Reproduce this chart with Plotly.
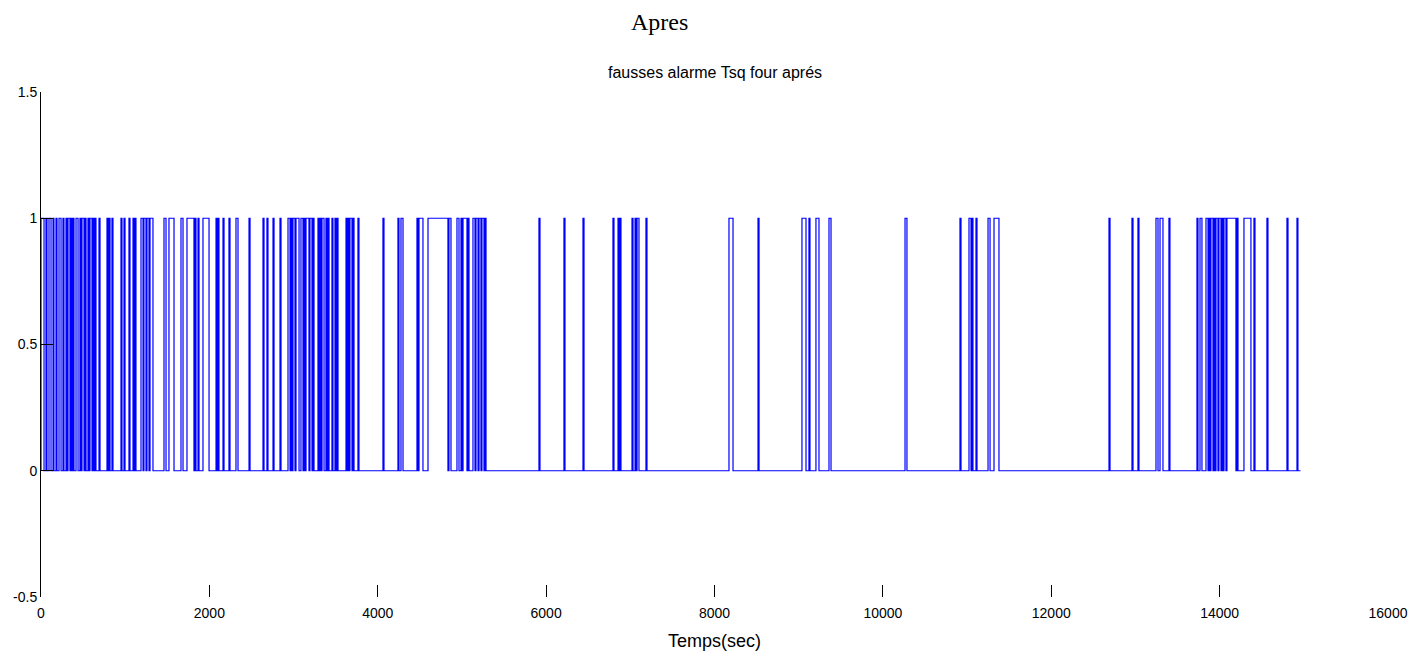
import plotly.graph_objects as go

# Alarm pulses: time (s) where the flag rises to 1 and where it falls back to 0
pulse_start = [
    0, 59, 95, 143, 178, 214, 261, 297, 321, 356, 380, 416, 463, 487, 523, 558,
    582, 618, 641, 689, 784, 808, 843, 950, 986, 1045, 1093, 1117, 1188, 1223,
    1259, 1295, 1461, 1520, 1663, 1734, 1829, 1865, 1924, 2079, 2102, 2162, 2233,
    2316, 2471, 2637, 2684, 2756, 2839, 2934, 2970, 2993, 3029, 3088, 3124, 3148,
    3195, 3231, 3290, 3314, 3338, 3385, 3409, 3456, 3492, 3516, 3623, 3647, 3670,
    3706, 3765, 4062, 4240, 4276, 4466, 4490, 4597, 4846, 4941, 4989, 5013, 5072,
    5131, 5167, 5203, 5238, 5274, 5915, 6212, 6438, 6794, 6854, 6877, 7020, 7056,
    7080, 7186, 8172, 8517, 9039, 9122, 9205, 9360, 10263, 10916, 11023, 11058,
    11106, 11249, 11320, 12686, 12959, 13030, 13244, 13292, 13398, 13731, 13767,
    13838, 13874, 13897, 13933, 13957, 13992, 14028, 14052, 14087, 14206, 14289,
    14408, 14562, 14800, 14919,
]
pulse_end = [
    36, 71, 119, 154, 190, 238, 273, 309, 344, 368, 392, 440, 475, 511, 535, 570,
    606, 630, 653, 701, 796, 820, 855, 962, 998, 1057, 1105, 1128, 1212, 1247,
    1283, 1330, 1485, 1580, 1687, 1817, 1841, 1877, 1996, 2091, 2114, 2174, 2245,
    2340, 2483, 2649, 2696, 2768, 2851, 2958, 2981, 3017, 3065, 3112, 3136, 3183,
    3219, 3243, 3302, 3326, 3362, 3397, 3421, 3468, 3504, 3528, 3635, 3658, 3694,
    3718, 3777, 4074, 4252, 4300, 4478, 4537, 4834, 4870, 4965, 5001, 5060, 5084,
    5155, 5191, 5226, 5262, 5286, 5927, 6224, 6450, 6806, 6866, 6889, 7032, 7068,
    7103, 7198, 8220, 8529, 9087, 9134, 9241, 9384, 10286, 10928, 11047, 11070,
    11118, 11273, 11379, 12698, 12971, 13042, 13268, 13327, 13410, 13743, 13790,
    13862, 13886, 13921, 13945, 13980, 14016, 14040, 14075, 14194, 14218, 14372,
    14420, 14574, 14812, 14930,
]
t_end = 14960

x_ticks = [0, 2000, 4000, 6000, 8000, 10000, 12000, 14000, 16000]
y_ticks = [-0.5, 0, 0.5, 1, 1.5]
y_tick_text = ["-0.5", "0", "0.5", "1", "1.5"]

# Build the step signal from the pulse list
xs, ys = [], []
for s, e in zip(pulse_start, pulse_end):
    xs += [s, s, e, e]
    ys += [0, 1, 1, 0]
xs.append(t_end)
ys.append(0)

fig = go.Figure()
fig.add_trace(go.Scatter(
    x=xs, y=ys, mode="lines",
    line=dict(color="#0000ff", width=1.2),
    hoverinfo="skip", showlegend=False,
))

fig.update_layout(
    width=1424, height=659,
    margin=dict(l=41, r=36, t=92, b=62),
    paper_bgcolor="white", plot_bgcolor="white",
    font=dict(family="Liberation Sans, Arial, sans-serif", color="black", size=14),
    xaxis=dict(
        range=[0, 16000], tickvals=x_ticks, ticktext=[str(v) for v in x_ticks],
        ticks="inside", ticklen=12, tickcolor="black", tickwidth=1,
        showline=False, showgrid=False, zeroline=False,
        tickfont=dict(size=14), ticklabelstandoff=6,
        title=dict(text="Temps(sec)", font=dict(size=18), standoff=14),
    ),
    yaxis=dict(
        range=[-0.5, 1.5], tickvals=y_ticks, ticktext=y_tick_text,
        ticks="inside", ticklen=12, tickcolor="black", tickwidth=1,
        showline=True, linecolor="black", linewidth=1,
        showgrid=False, zeroline=False,
        tickfont=dict(size=14),
    ),
    annotations=[
        dict(text="Apres", xref="paper", yref="paper", x=0.4595, y=1.0,
             yshift=70, showarrow=False, xanchor="center", yanchor="middle",
             font=dict(family="Liberation Serif, Times New Roman, serif", size=24)),
        dict(text="fausses alarme Tsq four aprés", xref="paper", yref="paper",
             x=0.5, y=1.0, yshift=20, showarrow=False,
             xanchor="center", yanchor="middle",
             font=dict(size=16)),
    ],
)

fig.write_html("out.html")
